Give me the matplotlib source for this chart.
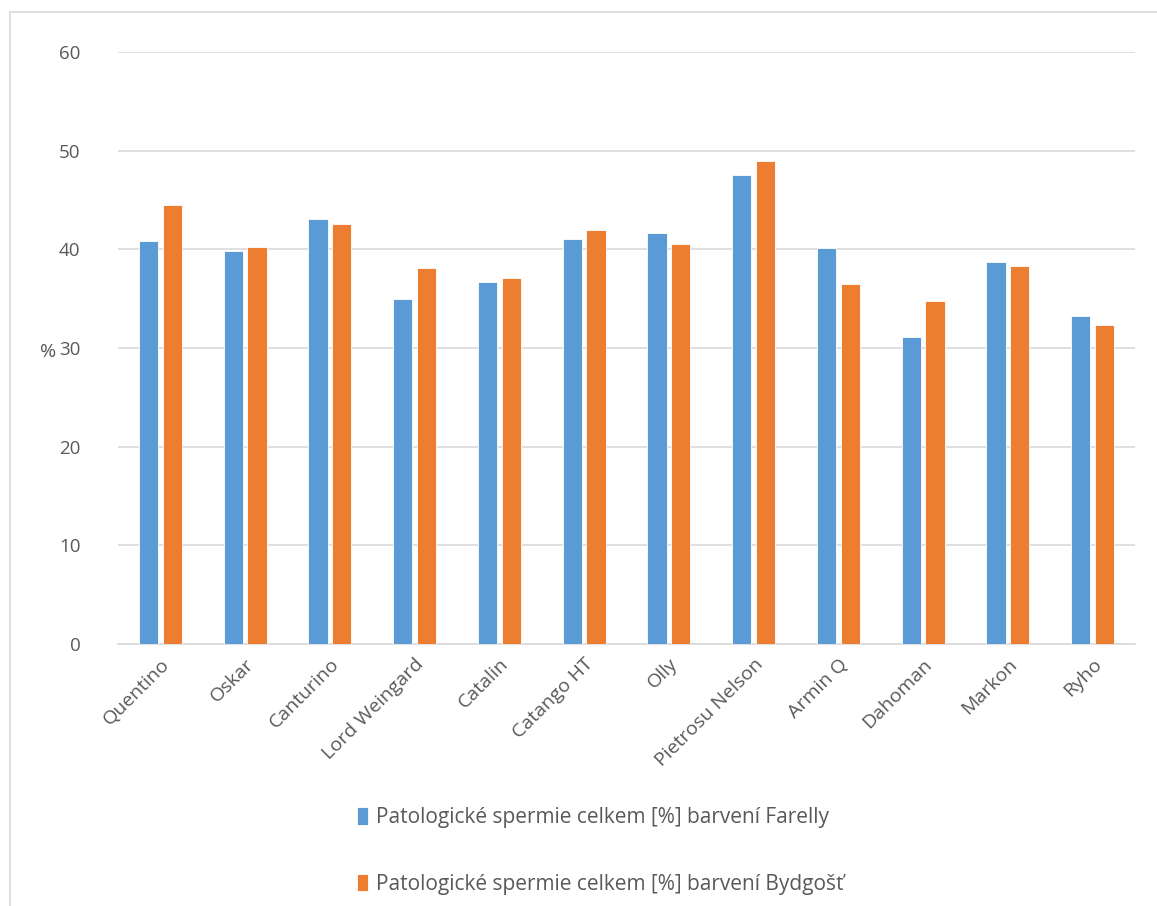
import numpy as np
import matplotlib.pyplot as plt
from matplotlib.patches import Rectangle

plt.rcParams['font.family'] = ['Open Sans', 'DejaVu Sans']

names = ['Quentino', 'Oskar', 'Canturino', 'Lord Weingard', 'Catalin', 'Catango HT',
         'Olly', 'Pietrosu Nelson', 'Armin Q', 'Dahoman', 'Markon', 'Ryho']
farelly = [40.8, 39.8, 43.1, 35.0, 36.7, 41.0, 41.7, 47.5, 40.1, 31.1, 38.7, 33.2]
bydgost = [44.5, 40.2, 42.6, 38.1, 37.1, 42.0, 40.5, 49.0, 36.5, 34.8, 38.3, 32.3]

blue = '#5b9bd5'
orange = '#ed7d31'
text_c = '#595959'

fig = plt.figure(figsize=(11.57, 9.06), dpi=100)
ax = fig.add_axes([118 / 1157, 1 - 644 / 906, 1017 / 1157, 592 / 906])

x = np.arange(len(names))
w = 0.225
ax.bar(x - 0.14, farelly, w, color=blue, edgecolor='white', linewidth=0.6,
       label='Patologické spermie celkem [%] barvení Farelly', zorder=3)
ax.bar(x + 0.14, bydgost, w, color=orange, edgecolor='white', linewidth=0.6,
       label='Patologické spermie celkem [%] barvení Bydgošť', zorder=3)

ax.set_xlim(-0.5, len(names) - 0.5)
ax.set_ylim(0, 60)
ax.set_yticks(range(0, 61, 10))
ax.yaxis.grid(True, color='#d9d9d9', linewidth=1.2, zorder=0)
for s in ['top', 'right', 'left']:
    ax.spines[s].set_visible(False)
ax.spines['bottom'].set_color('#d9d9d9')
ax.spines['bottom'].set_linewidth(1.2)
ax.tick_params(axis='x', length=0, labelsize=14, colors=text_c, pad=8)
ax.tick_params(axis='y', length=0, labelsize=13.5, colors=text_c, pad=27)
ax.set_xticks(x)
ax.set_xticklabels(names, rotation=45, ha='right', rotation_mode='anchor')

fig.text(48 / 1157, 1 - 352 / 906, '%', fontsize=14, color=text_c, ha='center', va='center')

# legend entries stacked under the axes
handles, labels = ax.get_legend_handles_labels()
fig.legend(handles, labels, loc='center', bbox_to_anchor=(600 / 1157, 1 - 851 / 906),
           ncol=1, frameon=False, fontsize=15, labelcolor=text_c,
           handlelength=0.55, handleheight=0.9, handletextpad=0.35, labelspacing=2.2)

# chart area border
fig.add_artist(Rectangle((10 / 1157, -0.01), 1.1, 1 - 12 / 906 + 0.01, transform=fig.transFigure,
                         fill=False, edgecolor='#d9d9d9', linewidth=1.2))

fig.savefig('out.png', dpi=100)
